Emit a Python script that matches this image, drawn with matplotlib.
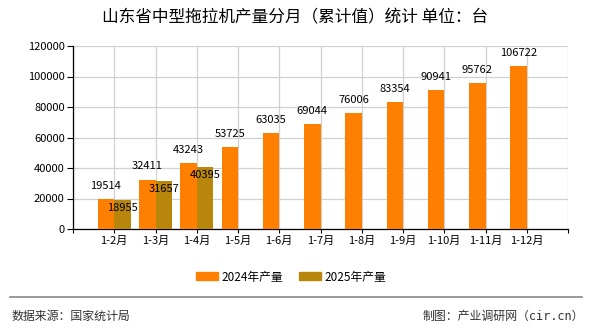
import matplotlib
matplotlib.use("Agg")
import matplotlib.pyplot as plt
from matplotlib.patches import Patch
from matplotlib.lines import Line2D

plt.rcParams['font.family'] = ['Noto Sans CJK SC', 'DejaVu Sans']

categories = ["1-2月", "1-3月", "1-4月", "1-5月", "1-6月", "1-7月", "1-8月", "1-9月", "1-10月", "1-11月", "1-12月"]
values_2024 = [19514, 32411, 43243, 53725, 63035, 69044, 76006, 83354, 90941, 95762, 106722]
values_2025 = [18955, 31657, 40395]
yticks = [0, 20000, 40000, 60000, 80000, 100000, 120000]

c2024 = "#FF8000"
c2025 = "#B8860B"

fig = plt.figure(figsize=(5.9, 3.3), dpi=100)
ax = fig.add_axes([73/590, 1-229/330, (568-73)/590, (229-46)/330])

n = len(categories)
x24 = [i - 0.2 for i in range(n)]
x25 = [i + 0.2 for i in range(len(values_2025))]
ax.bar(x24, values_2024, width=0.4, color=c2024, zorder=3)
ax.bar(x25, values_2025, width=0.4, color=c2025, zorder=3)

for x, v in zip(x24, values_2024):
    ax.annotate(str(v), (x, v), xytext=(0, 9.5), textcoords='offset points',
                ha='center', va='center', fontsize=8, color='black', zorder=5)
for x, v in zip(x25, values_2025):
    ax.annotate(str(v), (x, v), xytext=(0, -5.8), textcoords='offset points',
                ha='center', va='center', fontsize=8, color='black', zorder=5)

ax.set_xlim(-1, n)
ax.set_ylim(0, 120000)
ax.set_xticks(range(-1, n + 1))
ax.set_xticklabels([""] + categories + [""], fontsize=8)
ax.set_yticks(yticks)
ax.set_yticklabels([str(t) for t in yticks], fontsize=8)
ax.grid(True, color="#d0d0d0", linewidth=0.9, zorder=0)
for s in ['top', 'right']:
    ax.spines[s].set_visible(False)
ax.spines['left'].set_color('black')
ax.spines['bottom'].set_color('black')
ax.spines['left'].set_linewidth(0.9)
ax.spines['bottom'].set_linewidth(0.9)
ax.tick_params(axis='y', length=4, width=0.8, pad=2)
ax.tick_params(axis='x', length=3, width=0.8, pad=2)

fig.text(295/590, 1-18/330, "山东省中型拖拉机产量分月（累计值）统计 单位：台",
         ha='center', va='center', fontsize=12, color='black')

handles = [Patch(color=c2024, label="2024年产量"), Patch(color=c2025, label="2025年产量")]
fig.legend(handles=handles, loc='center', bbox_to_anchor=(291/590, 1-277/330), ncol=2,
           frameon=False, fontsize=8.5, handlelength=1.85, handleheight=0.65,
           columnspacing=1.35, handletextpad=0.3)

fig.add_artist(Line2D([10/590, 582/590], [1-297/330, 1-297/330], color="#888888", linewidth=1.2))
fig.text(11/590, 1-316/330, "数据来源：国家统计局", ha='left', va='center', fontsize=8.6, color='#333333')
fig.text(584/590, 1-316/330, "制图：产业调研网（cir.cn）", ha='right', va='center', fontsize=8.6,
         color='#333333', family=['DejaVu Sans Mono', 'Noto Sans CJK SC'])

fig.savefig("out.png", dpi=100)
